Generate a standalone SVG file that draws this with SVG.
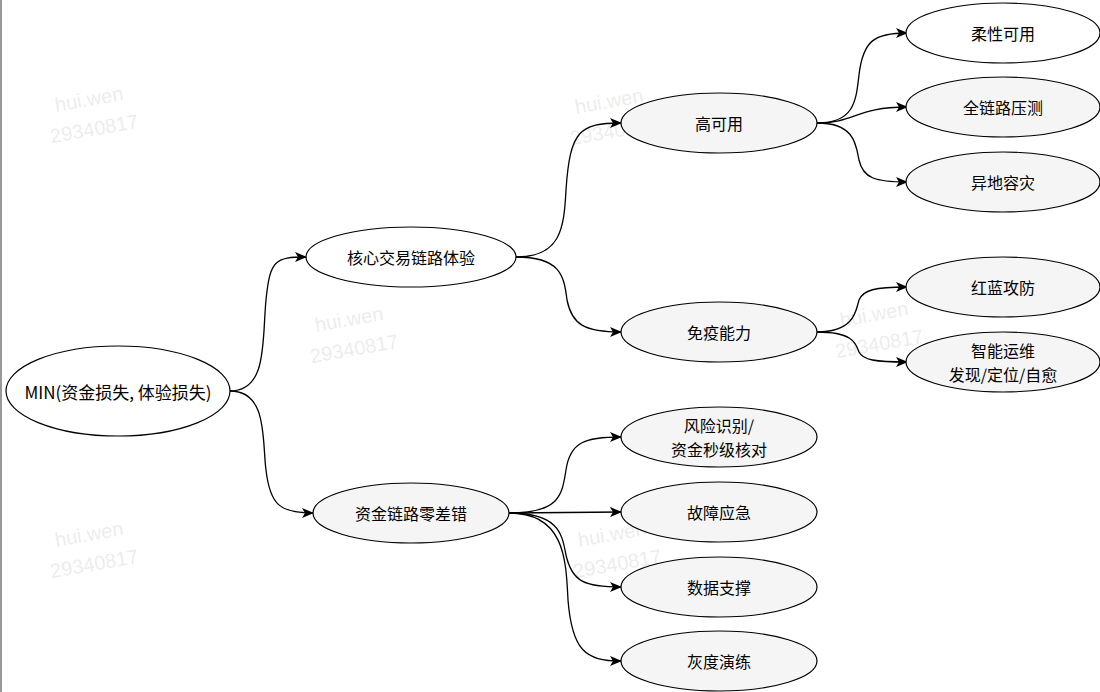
<svg xmlns="http://www.w3.org/2000/svg" width="1100" height="692" viewBox="0 0 1100 692">
<style>
.n{stroke:#000;stroke-width:1.2}
.w{fill:#fff}.g{fill:#f5f5f5}
text{font-family:"Noto Sans CJK SC","Liberation Sans",sans-serif;font-size:16px;fill:#000;text-anchor:middle;dominant-baseline:central}
.wm{font-family:"Liberation Sans",sans-serif;font-size:20px;fill:#000;opacity:0.07;text-anchor:start}
.e{fill:none;stroke:#000;stroke-width:1.3;marker-end:url(#a)}
</style>
<defs><marker id="a" markerWidth="12" markerHeight="10" refX="11" refY="5" orient="auto" markerUnits="userSpaceOnUse"><path d="M0,0 L12,5 L0,10 L3,5 Z" fill="#000"/></marker></defs>
<rect width="1100" height="692" fill="#fff"/>
<line x1="1" y1="0" x2="1" y2="692" stroke="#999" stroke-width="2"/>
<g id="watermarks">
<g transform="rotate(-10 55 105)"><text class="wm" x="55" y="105">hui.wen</text><text class="wm" x="45" y="135">29340817</text></g>
<g transform="rotate(-10 575 107)"><text class="wm" x="575" y="107">hui.wen</text><text class="wm" x="565" y="137">29340817</text></g>
<g transform="rotate(-10 315 325)"><text class="wm" x="315" y="325">hui.wen</text><text class="wm" x="305" y="355">29340817</text></g>
<g transform="rotate(-10 55 540)"><text class="wm" x="55" y="540">hui.wen</text><text class="wm" x="45" y="570">29340817</text></g>
<g transform="rotate(-10 578 540)"><text class="wm" x="578" y="540">hui.wen</text><text class="wm" x="568" y="570">29340817</text></g>
<g transform="rotate(-10 840 320)"><text class="wm" x="840" y="320">hui.wen</text><text class="wm" x="830" y="350">29340817</text></g>
</g>
<g id="connectors">
<path class="e" d="M230,391 C268,391 262,340 266,300 C270,260 275,257 306,257"/>
<path class="e" d="M230,391 C268,391 262,440 266,470 C270,505 280,513 313,513"/>
<path class="e" d="M516,257 C560,257 564,230 566,190 C570,130 580,123 621,123"/>
<path class="e" d="M516,257 C560,257 564,275 567,300 C572,325 585,332 621,332"/>
<path class="e" d="M509,513 C560,513 562,495 566,470 C570,442 585,437 621,437"/>
<path class="e" d="M509,513 L621,512"/>
<path class="e" d="M509,513 C560,513 562,535 566,555 C572,582 585,587 621,587"/>
<path class="e" d="M509,513 C565,513 566,560 568,600 C572,650 585,661 621,661"/>
<path class="e" d="M817,123 C855,123 856,100 859,75 C863,40 875,33 907,33"/>
<path class="e" d="M817,123 C855,123 856,107 907,107"/>
<path class="e" d="M817,123 C855,123 856,145 859,160 C863,178 875,182 907,182"/>
<path class="e" d="M817,332 C855,332 856,310 859,300 C863,290 875,287 907,287"/>
<path class="e" d="M817,332 C855,332 856,345 859,352 C863,360 875,362 907,362"/>
</g>
<g id="root"><ellipse class="n w" cx="118" cy="391" rx="112" ry="45"/><text x="118" y="391" style="font-size:17px">MIN(资金损失, 体验损失)</text></g>
<g id="n-core"><ellipse class="n w" cx="411" cy="257" rx="105" ry="30"/><text x="411" y="257">核心交易链路体验</text></g>
<g id="n-fund"><ellipse class="n g" cx="411" cy="513" rx="98" ry="30"/><text x="411" y="513">资金链路零差错</text></g>
<g id="n-ha"><ellipse class="n g" cx="719" cy="123" rx="98" ry="30"/><text x="719" y="123">高可用</text></g>
<g id="n-imm"><ellipse class="n g" cx="719" cy="332" rx="98" ry="30"/><text x="719" y="332">免疫能力</text></g>
<g id="n-risk"><ellipse class="n g" cx="719" cy="437" rx="98" ry="30"/><text x="719" y="425">风险识别/</text><text x="719" y="449">资金秒级核对</text></g>
<g id="n-fault"><ellipse class="n g" cx="719" cy="512" rx="98" ry="30"/><text x="719" y="512">故障应急</text></g>
<g id="n-data"><ellipse class="n g" cx="719" cy="587" rx="98" ry="30"/><text x="719" y="587">数据支撑</text></g>
<g id="n-gray"><ellipse class="n g" cx="719" cy="661" rx="98" ry="30"/><text x="719" y="661">灰度演练</text></g>
<g id="n-flex"><ellipse class="n w" cx="1003" cy="33" rx="97" ry="30"/><text x="1003" y="33">柔性可用</text></g>
<g id="n-press"><ellipse class="n g" cx="1003" cy="107" rx="97" ry="30"/><text x="1003" y="107">全链路压测</text></g>
<g id="n-dr"><ellipse class="n g" cx="1003" cy="182" rx="97" ry="30"/><text x="1003" y="182">异地容灾</text></g>
<g id="n-rb"><ellipse class="n g" cx="1003" cy="287" rx="97" ry="30"/><text x="1003" y="287">红蓝攻防</text></g>
<g id="n-ops"><ellipse class="n g" cx="1003" cy="362" rx="97" ry="30"/><text x="1003" y="350">智能运维</text><text x="1003" y="374">发现/定位/自愈</text></g>
</svg>
